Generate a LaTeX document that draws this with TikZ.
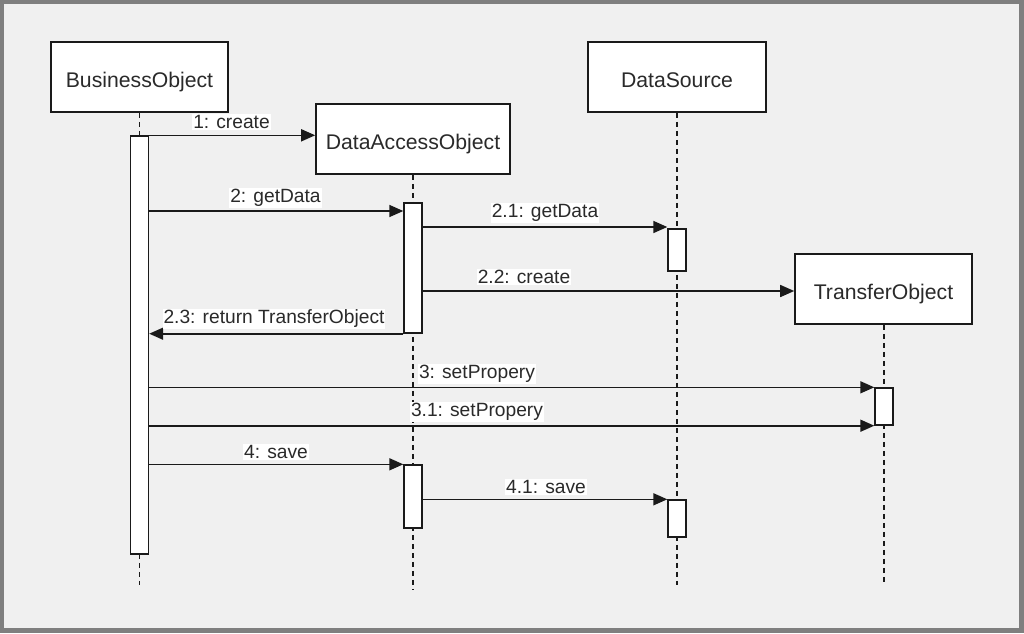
\documentclass[tikz,border=0pt]{standalone}
\usepackage{fontspec}
\setmainfont{Liberation Sans}
\usetikzlibrary{arrows.meta}
\definecolor{bgc}{HTML}{F0F0F0}
\definecolor{framec}{HTML}{7F7F7F}
\definecolor{inkc}{HTML}{1A1A1A}
\definecolor{txtc}{HTML}{2A2A2A}
\begin{document}
\begin{tikzpicture}[x=1pt,y=-1pt,
  obj/.style={draw=inkc, line width=1.6pt, fill=white, minimum height=70pt, inner sep=0pt, text height=21pt, text depth=0pt, text=txtc, font=\fontsize{21.2}{25}\selectfont},
  act/.style={draw=inkc, line width=1.4pt, fill=white, minimum width=18pt, inner sep=0pt},
  life/.style={draw=inkc, dash pattern=on 5pt off 4pt, line width=1.2pt},
  msg/.style={draw=inkc, line width=1.6pt, -{Triangle[length=14pt,width=12pt]}},
  lbl/.style={fill=white, inner sep=1pt, text=txtc, font=\fontsize{19.2}{23}\selectfont}]
\useasboundingbox (0,0) rectangle (1024,633);
\fill[framec] (0,0) rectangle (1024,633);
\fill[bgc] (4,4) rectangle (1019,628);

% objects
\node[obj, minimum width=177pt] (BO) at (139.5,77) {BusinessObject};
\node[obj, minimum width=194pt] (DAO) at (413,139) {DataAccessObject};
\node[obj, minimum width=178pt] (DS) at (677,77) {DataSource};
\node[obj, minimum width=177pt] (TO) at (883.5,289) {TransferObject};

% lifeline ends
\coordinate (BOend) at (139.5,585);
\coordinate (DAOend) at (413,590);
\coordinate (DSend) at (677,585);
\coordinate (TOend) at (884,585);

\draw[life] (BO.south) -- (BOend);
\draw[life] (DAO.south) -- (DAOend);
\draw[life] (DS.south) -- (DSend);
\draw[life] (TO.south -| TOend) -- (TOend);

% activations
\node[act, minimum height=418pt] (BOa) at (139.5,345) {};
\node[act, minimum height=130pt] (DAOa1) at (413,268) {};
\node[act, minimum height=63pt] (DAOa2) at (413,496.5) {};
\node[act, minimum height=42pt] (DSa1) at (677,250) {};
\node[act, minimum height=37pt] (DSa2) at (677,518.5) {};
\node[act, minimum height=37pt] (TOa) at (884,406.5) {};

% messages
\draw[msg] (BOa.north east) -- (DAO.west |- BOa.north east);
\draw[msg] (BOa.east |- 0,211) -- (DAOa1.west |- 0,211);
\draw[msg] (DAOa1.east |- 0,227) -- (DSa1.west |- 0,227);
\draw[msg] (DAOa1.east |- 0,291) -- (TO.west |- 0,291);
\draw[msg] (DAOa1.south west) -- (BOa.east |- DAOa1.south west);
\draw[msg] (BOa.east |- TOa.north west) -- (TOa.north west);
\draw[msg] (BOa.east |- TOa.south west) -- (TOa.south west);
\draw[msg] (BOa.east |- DAOa2.north west) -- (DAOa2.north west);
\draw[msg] (DAOa2.east |- DSa2.north west) -- (DSa2.north west);

% labels
\node[lbl] (l1) at (231.5,122) {1: create};
\node[lbl] (l2) at (275.5,198) {2: getData};
\node[lbl] (l21) at (545,213) {2.1: getData};
\node[lbl] (l22) at (524,277) {2.2: create};
\node[lbl] (l23) at (274,319) {2.3: return TransferObject};
\node[lbl] (l3) at (477,374) {3: setPropery};
\node[lbl] (l31) at (477,412) {3.1: setPropery};
\node[lbl] (l4) at (276,452) {4: save};
\node[lbl] (l41) at (546,487) {4.1: save};
\end{tikzpicture}
\end{document}
